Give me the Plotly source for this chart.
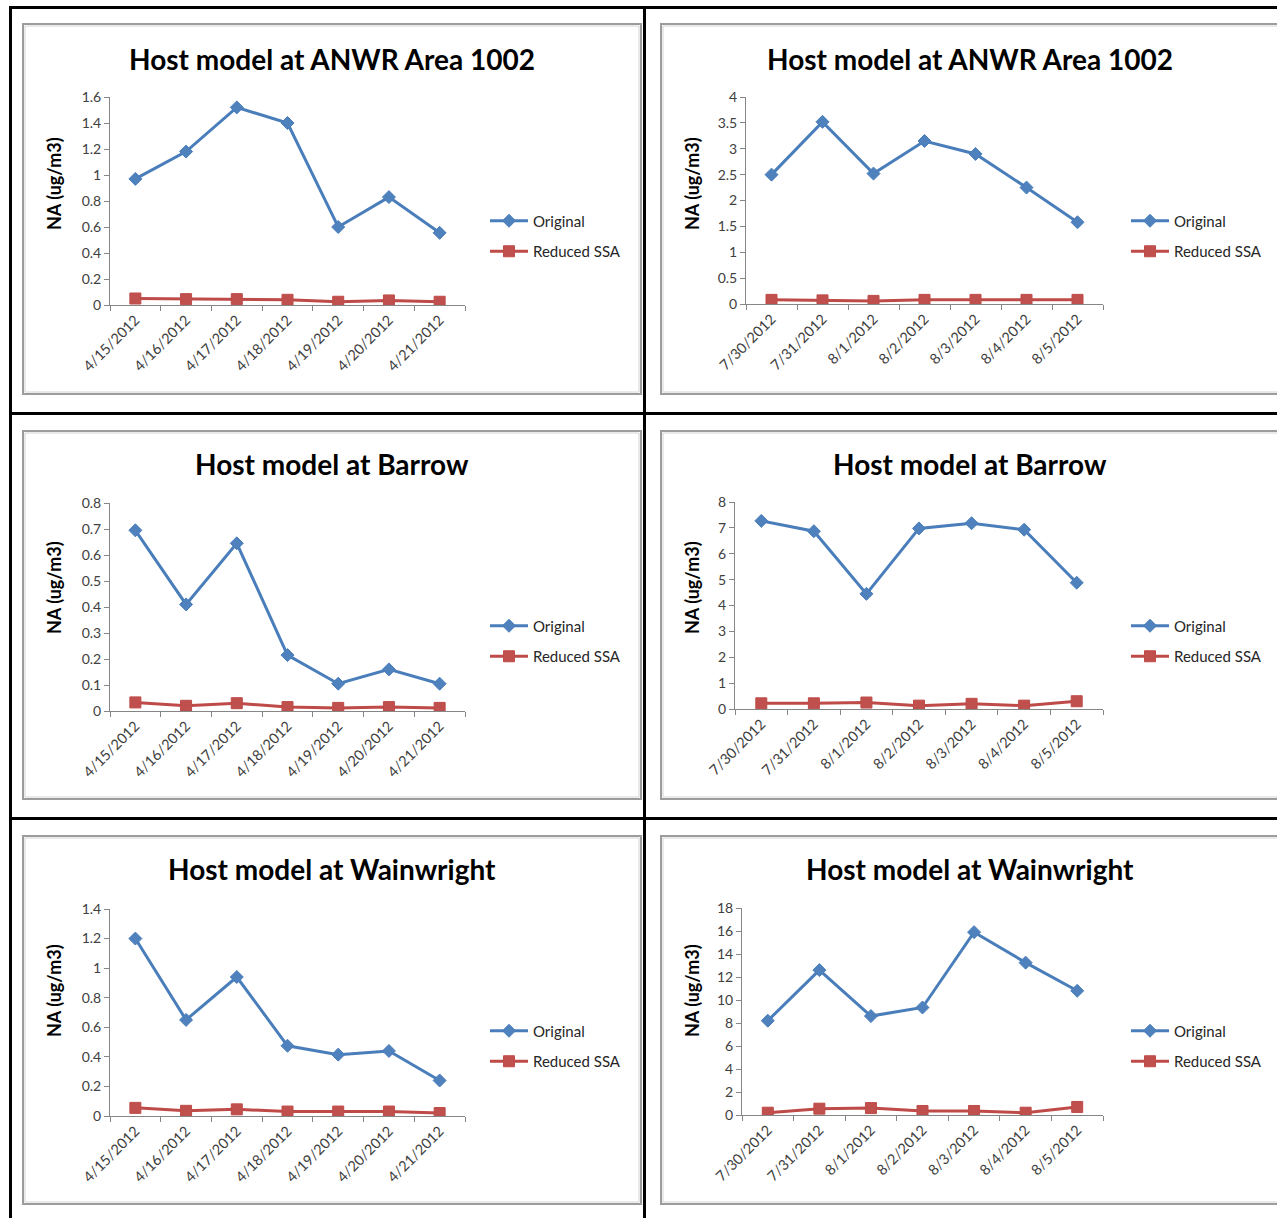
import plotly.graph_objects as go

# ---- data -------------------------------------------------------------
april_dates = ["4/15/2012", "4/16/2012", "4/17/2012", "4/18/2012",
               "4/19/2012", "4/20/2012", "4/21/2012"]
summer_dates = ["7/30/2012", "7/31/2012", "8/1/2012", "8/2/2012",
                "8/3/2012", "8/4/2012", "8/5/2012"]

anwr_apr_original = [0.97, 1.18, 1.52, 1.40, 0.60, 0.83, 0.555]
anwr_apr_reduced = [0.05, 0.045, 0.045, 0.04, 0.025, 0.035, 0.025]
anwr_sum_original = [2.50, 3.52, 2.52, 3.15, 2.90, 2.25, 1.58]
anwr_sum_reduced = [0.08, 0.07, 0.06, 0.08, 0.08, 0.08, 0.08]

barrow_apr_original = [0.695, 0.41, 0.645, 0.215, 0.105, 0.16, 0.105]
barrow_apr_reduced = [0.033, 0.02, 0.03, 0.015, 0.012, 0.015, 0.012]
barrow_sum_original = [7.27, 6.87, 4.45, 6.98, 7.18, 6.93, 4.88]
barrow_sum_reduced = [0.22, 0.22, 0.25, 0.13, 0.20, 0.13, 0.30]

wain_apr_original = [1.20, 0.65, 0.94, 0.475, 0.415, 0.44, 0.24]
wain_apr_reduced = [0.055, 0.035, 0.045, 0.03, 0.03, 0.03, 0.02]
wain_sum_original = [8.2, 12.6, 8.6, 9.35, 15.9, 13.25, 10.8]
wain_sum_reduced = [0.2, 0.55, 0.6, 0.35, 0.35, 0.2, 0.7]

titles = ["Host model at ANWR Area 1002", "Host model at ANWR Area 1002",
          "Host model at Barrow", "Host model at Barrow",
          "Host model at Wainwright", "Host model at Wainwright"]
y_title = "NA (ug/m3)"
series_names = ["Original", "Reduced SSA"]

panels = [
    (april_dates, anwr_apr_original, anwr_apr_reduced, 1.6, 0.2),
    (summer_dates, anwr_sum_original, anwr_sum_reduced, 4, 0.5),
    (april_dates, barrow_apr_original, barrow_apr_reduced, 0.8, 0.1),
    (summer_dates, barrow_sum_original, barrow_sum_reduced, 8, 1),
    (april_dates, wain_apr_original, wain_apr_reduced, 1.4, 0.2),
    (summer_dates, wain_sum_original, wain_sum_reduced, 18, 2),
]

# ---- page geometry (pixels) ------------------------------------------
W, H = 1277, 1218


def px(x):
    return x / W


def py(y):
    return 1 - y / H


# plot areas: (left, right, top, bottom)
plot_boxes = [
    (110, 465, 97, 305),
    (746, 1103, 97, 304),
    (110, 465, 503, 711),
    (735, 1103, 502, 709),
    (110, 465, 909, 1116),
    (742, 1103, 908, 1115),
]
# chart frames: (left, right, top, bottom)
frames = [
    (23, 641, 24, 394), (661, 1280, 24, 394),
    (23, 641, 431, 799), (661, 1280, 431, 799),
    (23, 641, 836, 1204), (661, 1280, 836, 1204),
]
title_pos = [(332, 59), (970, 59), (332, 464), (970, 464), (332, 869), (970, 869)]
ytitle_pos = [(54, 184), (692, 184), (54, 588), (692, 588), (54, 991), (692, 991)]
legend_pos = [(485, 236), (1126, 236), (485, 641), (1126, 641), (485, 1046), (1126, 1046)]

FONT = "Lato"
BLUE_LINE, BLUE_FILL = "#4A7EBB", "#4F81BD"
RED_LINE, RED_FILL = "#BE4B48", "#C0504D"
AXIS_GREY = "#868686"
TEXT = "#404040"

fig = go.Figure()
layout = dict(
    width=W, height=H,
    margin=dict(l=0, r=0, t=0, b=0, autoexpand=False),
    paper_bgcolor="white", plot_bgcolor="white",
    showlegend=True,
    font=dict(family=FONT, color=TEXT),
)
annotations = []
shapes = []

for i, (cats, orig, red, ymax, dtick) in enumerate(panels):
    n = i + 1
    xa = "x" if n == 1 else f"x{n}"
    ya = "y" if n == 1 else f"y{n}"
    leg = "legend" if n == 1 else f"legend{n}"
    l, r, t, b = plot_boxes[i]

    fig.add_trace(go.Scatter(
        x=cats, y=orig, name=series_names[0], mode="lines+markers",
        line=dict(color=BLUE_LINE, width=3),
        marker=dict(symbol="diamond", size=10, color=BLUE_FILL,
                    line=dict(color=BLUE_LINE, width=1)),
        xaxis=xa, yaxis=ya, legend=leg, legendgroup=f"o{n}",
    ))
    fig.add_trace(go.Scatter(
        x=cats, y=red, name=series_names[1], mode="lines+markers",
        line=dict(color=RED_LINE, width=3),
        marker=dict(symbol="square", size=11, color=RED_FILL,
                    line=dict(color=RED_LINE, width=1)),
        xaxis=xa, yaxis=ya, legend=leg, legendgroup=f"r{n}",
    ))

    layout["xaxis" if n == 1 else f"xaxis{n}"] = dict(
        domain=[px(l), px(r)], anchor=ya, type="category",
        categoryorder="array", categoryarray=cats, range=[-0.5, 6.5],
        showline=True, linecolor=AXIS_GREY, linewidth=1,
        ticks="outside", tickson="boundaries", ticklen=5,
        tickcolor=AXIS_GREY, tickangle=-45, showgrid=False, zeroline=False,
        automargin=False,
        tickfont=dict(family=FONT, size=14.5, color=TEXT),
    )
    layout["yaxis" if n == 1 else f"yaxis{n}"] = dict(
        domain=[py(b), py(t)], anchor=xa, range=[0, ymax], dtick=dtick,
        tick0=0, showline=True, linecolor=AXIS_GREY, linewidth=1,
        ticks="outside", ticklen=5, tickcolor=AXIS_GREY,
        showgrid=False, zeroline=False, automargin=False,
        tickfont=dict(family=FONT, size=14, color=TEXT),
    )
    lx, lyc = legend_pos[i]
    layout[leg] = dict(
        x=px(lx), y=py(lyc), xanchor="left", yanchor="middle",
        bgcolor="rgba(0,0,0,0)", borderwidth=0, tracegroupgap=8,
        itemwidth=38,
        font=dict(family=FONT, size=15, color="#262626"),
        itemclick=False,
    )

    tx, ty = title_pos[i]
    annotations.append(dict(
        text=f"<b>{titles[i]}</b>", x=px(tx), y=py(ty), xref="paper",
        yref="paper", xanchor="center", yanchor="middle", showarrow=False,
        font=dict(family=FONT, size=28, color="black"),
    ))
    yx, yy = ytitle_pos[i]
    annotations.append(dict(
        text=f"<b>{y_title}</b>", x=px(yx), y=py(yy), xref="paper",
        yref="paper", xanchor="center", yanchor="middle", showarrow=False,
        textangle=-90, font=dict(family=FONT, size=18, color="black"),
    ))

    fl, fr, ft, fb = frames[i]
    shapes.append(dict(type="rect", xref="paper", yref="paper",
                       x0=px(fl), x1=px(fr), y0=py(fb), y1=py(ft),
                       line=dict(color="#9c9c9c", width=2), layer="below"))
    shapes.append(dict(type="rect", xref="paper", yref="paper",
                       x0=px(fl + 2), x1=px(fr - 2), y0=py(fb - 2), y1=py(ft + 2),
                       line=dict(color="#d4d4d4", width=1), layer="below"))

# table rules around the panels
black = dict(color="black", width=3)
for y in (7.5, 413.5, 818.5):
    shapes.append(dict(type="line", xref="paper", yref="paper",
                       x0=px(10), x1=1, y0=py(y), y1=py(y), line=black))
for x in (10.5, 644.5):
    shapes.append(dict(type="line", xref="paper", yref="paper",
                       x0=px(x), x1=px(x), y0=py(6), y1=0, line=black))

layout["annotations"] = annotations
layout["shapes"] = shapes
fig.update_layout(**layout)
fig.write_html("out.html")
